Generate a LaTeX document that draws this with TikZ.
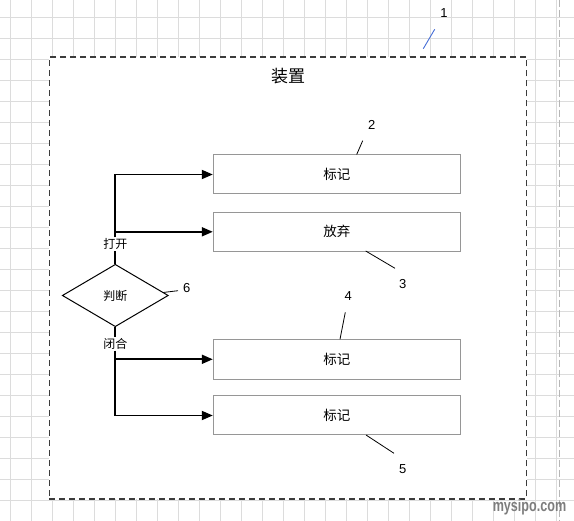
\documentclass[tikz,border=0pt]{standalone}
\usepackage{fontspec}
\setmainfont{Liberation Sans}
\newfontfamily\cjk{Noto Sans CJK SC}
\usetikzlibrary{arrows.meta,shapes.geometric,calc}
\definecolor{gridc}{RGB}{220,220,220}
\definecolor{boxc}{RGB}{150,150,150}
\definecolor{framec}{RGB}{60,60,60}
\definecolor{leadblue}{RGB}{70,110,215}
\definecolor{wmc}{RGB}{125,125,125}
\begin{document}
\begin{tikzpicture}[x=1pt,y=-1pt,
  stepbox/.style={draw=boxc,line width=1pt,fill=white,minimum width=247pt,minimum height=39pt,inner sep=0pt,font=\cjk\fontsize{13.5}{14}\selectfont},
  decide/.style={diamond,draw=black,line width=1pt,minimum width=106pt,minimum height=62.4pt,inner sep=0pt,font=\cjk\fontsize{12}{13}\selectfont},
  branchlbl/.style={fill=white,inner sep=1pt,font=\cjk\fontsize{12}{13}\selectfont},
  numlbl/.style={inner sep=0pt,font=\fontsize{13}{14}\selectfont},
  trunk/.style={line width=1.8pt},
  arr/.style={line width=1.8pt,-{Triangle[length=11pt,width=9pt]}},
  leader/.style={line width=0.8pt,black}]
\useasboundingbox (0,0) rectangle (574,521);
\fill[white] (0,0) rectangle (574,521);
% grid
\foreach \i in {0,...,26} \draw[gridc,line width=0.8pt] ({10.7+21*\i},0) -- ({10.7+21*\i},521);
\foreach \j in {0,...,23} \draw[gridc,line width=0.8pt] (0,{17.3+21*\j}) -- (574,{17.3+21*\j});
\draw[boxc!70,line width=0.9pt,dash pattern=on 7pt off 3pt] (559.3,0) -- (559.3,521);
% frame
\node[draw=framec,fill=white,line width=1.3pt,dash pattern=on 6pt off 4pt,minimum width=477.4pt,minimum height=442pt,inner sep=0pt] (frame) at (288,278) {};
\node[font=\cjk\fontsize{17}{18}\selectfont] (title) at (288,76.5) {装置};
% boxes
\node[stepbox] (b1) at (336.8,174.5) {标记};
\node[stepbox] (b2) at (336.8,231.8) {放弃};
\node[stepbox,minimum height=40pt] (b3) at (336.8,359.3) {标记};
\node[stepbox] (b4) at (336.8,415.5) {标记};
% decision
\node[decide] (d) at (115.3,295.5) {判断};
\node[branchlbl] (open) at (115.3,244) {打开};
\node[branchlbl] (close) at (115.3,344) {闭合};
\coordinate (j1) at (open.north |- b2.west);
\coordinate (j2) at (close.south |- b3.west);
\draw[trunk] (d.north) -- (open.south);
\draw[trunk] (d.south) -- (close.north);
\draw[trunk] (open.north) -- (j1);
\draw[arr] (j1) -- (b2.west);
\draw[arr] (j1) |- (b1.west);
\draw[trunk] (close.south) -- (j2);
\draw[arr] (j2) -- (b3.west);
\draw[arr] (j2) |- (b4.west);
% numbers and leaders
\node[numlbl] (n1) at (444,13.5) {1};
\coordinate (l1a) at (423.3,48.7);
\coordinate (l1b) at (434.7,29.3);
\draw[leadblue,line width=0.9pt] (l1a) -- (l1b);
\node[numlbl] (n2) at (371.7,125) {2};
\coordinate (l2a) at (356.7,154.5);
\coordinate (l2b) at (362.7,140.7);
\draw[leader] (l2a) -- (l2b);
\node[numlbl] (n3) at (402.7,284.3) {3};
\coordinate (l3a) at (365.7,251);
\coordinate (l3b) at (395,268.3);
\draw[leader] (l3a) -- (l3b);
\node[numlbl] (n4) at (348.3,296) {4};
\coordinate (l4a) at (340,339.3);
\coordinate (l4b) at (345.3,312.3);
\draw[leader] (l4a) -- (l4b);
\node[numlbl] (n5) at (402.7,469.3) {5};
\coordinate (l5a) at (366,435);
\coordinate (l5b) at (394,453.3);
\draw[leader] (l5a) -- (l5b);
\node[numlbl] (n6) at (186.7,288.5) {6};
\coordinate (l6a) at (163,292.5);
\coordinate (l6b) at (178,290.7);
\draw[leader] (l6a) -- (l6b);
% watermark
\node[text=wmc,font=\bfseries\fontsize{17}{18}\selectfont,xscale=0.74,inner sep=0pt] (wm) at (529.5,507.5) {mysipo.com};
\end{tikzpicture}
\end{document}
